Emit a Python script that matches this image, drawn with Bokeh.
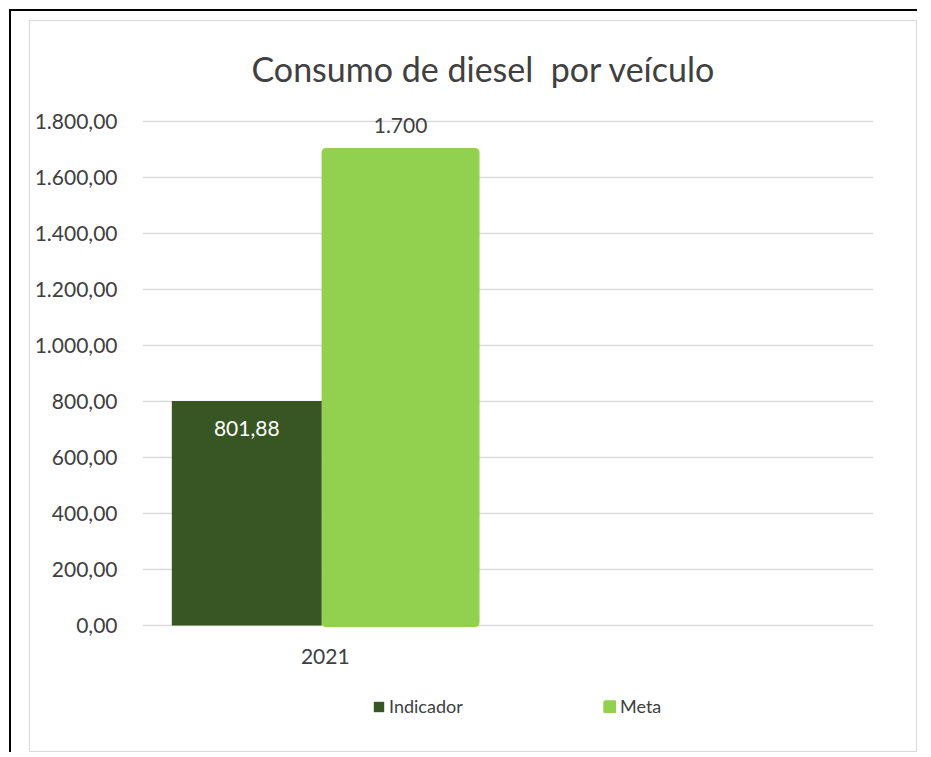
from bokeh.plotting import figure
from bokeh.layouts import column
from bokeh.models import (Range1d, FixedTicker, Legend, LegendItem,
                          ColumnDataSource)
from bokeh.core.properties import value
from bokeh.embed import file_html
from bokeh.resources import INLINE

# ---- data ----
title_text = "Consumo de diesel  por veículo"
categories = ["2021"]
series_names = ["Indicador", "Meta"]
indicador = [801.88]
meta = [1700]
indicador_labels = ["801,88"]
meta_labels = ["1.700"]
y_ticks = [0, 200, 400, 600, 800, 1000, 1200, 1400, 1600, 1800]
y_tick_labels = ["0,00", "200,00", "400,00", "600,00", "800,00", "1.000,00",
                 "1.200,00", "1.400,00", "1.600,00", "1.800,00"]

FONT = "Lato"
TXT = "#404040"
DARK = "#375623"
LIGHT = "#92d050"

# canvas (inside the light grey chart-area border)
W, H = 888, 732
FL, FT, FW = 112, 72, 731
FB = 2
YMAX, YMIN = 1900, -450

# keep the double space visible (SVG collapses runs of plain spaces)
shown_title = title_text.replace("  ", "\u00a0 ")

p = figure(width=W, height=H, output_backend="svg", toolbar_location=None,
           x_range=Range1d(0, 2), y_range=Range1d(YMIN, YMAX),
           min_border_left=FL, min_border_right=W - FL - FW,
           min_border_top=FT, min_border_bottom=FB,
           title=shown_title,
           styles={"border": "1px solid #d9d9d9"})
p.outline_line_color = None
p.background_fill_color = "white"
p.border_fill_color = "white"

p.title.text_font = FONT
p.title.text_font_size = "34px"
p.title.text_font_style = "normal"
p.title.text_color = TXT
p.title.align = "left"
p.title.offset = 109
p.title.standoff = 10

pos = [i + 0.5 for i in range(len(categories))]
src = ColumnDataSource(dict(
    x_ind=[x - 0.2148 for x in pos], x_meta=[x + 0.206 for x in pos],
    ind=indicador, meta=meta, ind_lab=indicador_labels, meta_lab=meta_labels))

r_meta = p.vbar(x="x_meta", top="meta", bottom=0, width=0.424, source=src,
                fill_color=LIGHT, line_color=LIGHT, line_width=3,
                border_radius=3)
r_ind = p.vbar(x="x_ind", top="ind", bottom=0, width=0.41, source=src,
               fill_color=DARK, line_color=None)

p.text(x="x_ind", y="ind", text="ind_lab", source=src, text_align="center",
       text_baseline="middle", y_offset=28, text_color="white",
       text_font=value(FONT), text_font_size="21px")
p.text(x="x_meta", y="meta", text="meta_lab", source=src, text_align="center",
       text_baseline="middle", y_offset=-24, text_color=TXT,
       text_font=value(FONT), text_font_size="21px")

# axes
p.yaxis.ticker = FixedTicker(ticks=y_ticks)
p.yaxis.major_label_overrides = {t: l for t, l in zip(y_ticks, y_tick_labels)}
p.xaxis.ticker = FixedTicker(ticks=pos)
p.xaxis.major_label_overrides = {x: c for x, c in zip(pos, categories)}
p.xaxis.fixed_location = 0
for ax in (p.xaxis, p.yaxis):
    ax.axis_line_color = None
    ax.major_tick_line_color = None
    ax.minor_tick_line_color = None
    ax.major_tick_in = 0
    ax.major_tick_out = 0
    ax.major_label_text_font = FONT
    ax.major_label_text_font_size = "21px"
    ax.major_label_text_color = TXT
p.yaxis.major_label_standoff = 25
p.xaxis.major_label_standoff = 23

p.xgrid.grid_line_color = None
p.ygrid.ticker = FixedTicker(ticks=y_ticks)
p.ygrid.grid_line_color = "#d9d9d9"
p.ygrid.grid_line_width = 1.5

# legend (inside the frame, below the category axis)
legend = Legend(items=[LegendItem(label=series_names[0], renderers=[r_ind]),
                       LegendItem(label=series_names[1], renderers=[r_meta])],
                orientation="horizontal", location=(230, 34),
                glyph_width=13, glyph_height=13, label_height=13,
                label_width=214, spacing=0, label_standoff=4, padding=0,
                margin=0, border_line_color=None, background_fill_alpha=0,
                label_text_font=FONT, label_text_font_size="18px",
                label_text_color=TXT)
p.add_layout(legend, "center")

layout = column(p, styles={"border-left": "2px solid black",
                           "border-top": "2px solid black",
                           "margin-left": "9px", "margin-top": "9px",
                           "padding-left": "18px", "padding-top": "9px"})

open("out.html", "w").write(file_html(layout, INLINE))
